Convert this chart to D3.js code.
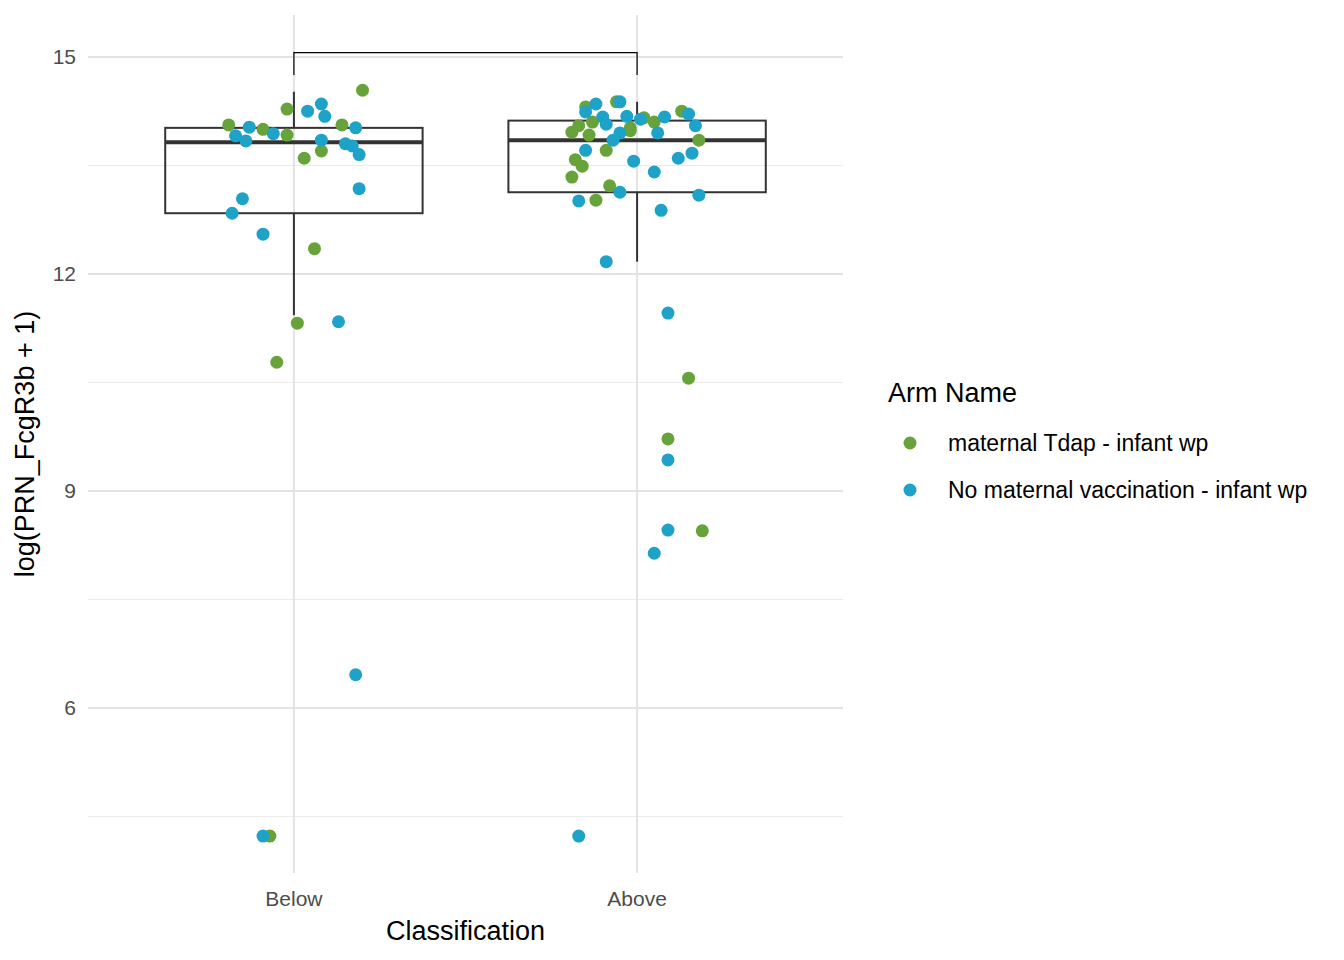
<!DOCTYPE html>
<html><head><meta charset="utf-8">
<script src="https://cdnjs.cloudflare.com/ajax/libs/d3/7.8.5/d3.min.js"></script>
<style>body{margin:0;background:#fff;font-family:"Liberation Sans",Arial,sans-serif;}</style>
</head><body>
<script>
var W = 1344, H = 960;
var svg = d3.select("body").append("svg").attr("width", W).attr("height", H);

var colors = {"maternal Tdap - infant wp": "#67a33a", "No maternal vaccination - infant wp": "#1ea2c8"};

// [class, arm, jitter offset (fraction of band step), value]
var G = "maternal Tdap - infant wp", B = "No maternal vaccination - infant wp";
var points = [
 ["Below",G,-0.19,14.06],["Below",G,-0.02,14.28],["Below",G,-0.09,14.00],["Below",G,-0.02,13.92],
 ["Below",G,0.03,13.60],["Below",G,0.08,13.70],["Below",G,0.14,14.06],["Below",G,0.20,14.54],
 ["Below",G,0.06,12.35],["Below",G,0.01,11.32],["Below",G,-0.05,10.78],["Below",G,-0.07,4.23],
 ["Below",B,-0.17,13.91],["Below",B,-0.13,14.03],["Below",B,-0.14,13.84],["Below",B,-0.06,13.94],
 ["Below",B,0.04,14.25],["Below",B,0.08,14.35],["Below",B,0.09,14.18],["Below",B,0.08,13.85],
 ["Below",B,0.15,13.80],["Below",B,0.17,13.77],["Below",B,0.18,14.02],["Below",B,0.19,13.65],
 ["Below",B,0.19,13.18],["Below",B,-0.15,13.04],["Below",B,-0.18,12.84],["Below",B,-0.09,12.55],
 ["Below",B,0.13,11.34],["Below",B,0.18,6.46],["Below",B,-0.09,4.23],
 ["Above",G,-0.19,13.96],["Above",G,-0.17,14.05],["Above",G,-0.15,14.31],["Above",G,-0.13,14.10],
 ["Above",G,-0.14,13.92],["Above",G,-0.18,13.58],["Above",G,-0.16,13.49],["Above",G,-0.19,13.34],
 ["Above",G,-0.09,13.71],["Above",G,-0.08,13.22],["Above",G,-0.12,13.02],["Above",G,-0.02,13.98],
 ["Above",G,-0.06,14.38],["Above",G,-0.02,14.02],["Above",G,0.02,14.16],["Above",G,0.05,14.10],
 ["Above",G,0.13,14.25],["Above",G,0.18,13.85],["Above",G,0.15,10.56],["Above",G,0.09,9.72],
 ["Above",G,0.19,8.45],
 ["Above",B,-0.12,14.35],["Above",B,-0.10,14.17],["Above",B,-0.09,14.07],["Above",B,-0.15,14.24],
 ["Above",B,-0.15,13.71],["Above",B,-0.05,14.38],["Above",B,-0.05,13.95],["Above",B,-0.07,13.85],
 ["Above",B,-0.03,14.18],["Above",B,0.01,14.14],["Above",B,0.06,13.95],["Above",B,0.08,14.17],
 ["Above",B,0.15,14.21],["Above",B,0.17,14.05],["Above",B,0.16,13.67],["Above",B,0.12,13.60],
 ["Above",B,0.05,13.41],["Above",B,-0.01,13.56],["Above",B,-0.05,13.13],["Above",B,-0.17,13.01],
 ["Above",B,0.07,12.88],["Above",B,0.18,13.09],["Above",B,-0.09,12.17],["Above",B,0.09,11.46],
 ["Above",B,0.09,9.43],["Above",B,0.09,8.46],["Above",B,0.05,8.14],["Above",B,-0.17,4.23]
];

var boxes = [
 {k:"Below", lo:11.43, q1:12.84, med:13.82, q3:14.02, hi:14.52},
 {k:"Above", lo:12.17, q1:13.13, med:13.85, q3:14.12, hi:14.38}
];

var pLeft = 88, pRight = 843, pTop = 15, pBottom = 873;
var x = d3.scalePoint().domain(["Below","Above"]).range([pLeft, pRight]).padding(0.6);
var step = x.step();
var y = d3.scaleLinear().domain([3.72, 15.58]).range([pBottom, pTop]);

// grid
[4.5,7.5,10.5,13.5].forEach(function(v){
  svg.append("line").attr("x1",pLeft).attr("x2",pRight).attr("y1",y(v)).attr("y2",y(v)).attr("stroke","#ebebeb").attr("stroke-width",1);
});
[6,9,12,15].forEach(function(v){
  svg.append("line").attr("x1",pLeft).attr("x2",pRight).attr("y1",y(v)).attr("y2",y(v)).attr("stroke","#e3e3e3").attr("stroke-width",2);
});
x.domain().forEach(function(c){
  svg.append("line").attr("x1",x(c)).attr("x2",x(c)).attr("y1",pTop).attr("y2",pBottom).attr("stroke","#e3e3e3").attr("stroke-width",2);
});

// boxes
var bw = step * 0.75;
boxes.forEach(function(b){
  var cx = x(b.k);
  svg.append("line").attr("x1",cx).attr("x2",cx).attr("y1",y(b.hi)).attr("y2",y(b.q3)).attr("stroke","#333").attr("stroke-width",2);
  svg.append("line").attr("x1",cx).attr("x2",cx).attr("y1",y(b.q1)).attr("y2",y(b.lo)).attr("stroke","#333").attr("stroke-width",2);
  svg.append("rect").attr("x",cx-bw/2).attr("y",y(b.q3)).attr("width",bw).attr("height",y(b.q1)-y(b.q3))
     .attr("fill","none").attr("stroke","#333").attr("stroke-width",2);
  svg.append("line").attr("x1",cx-bw/2).attr("x2",cx+bw/2).attr("y1",y(b.med)).attr("y2",y(b.med)).attr("stroke","#333").attr("stroke-width",4);
});

// points
svg.selectAll("circle.pt").data(points).enter().append("circle")
  .attr("class","pt")
  .attr("cx", function(d){ return x(d[0]) + d[2]*step; })
  .attr("cy", function(d){ return y(d[3]); })
  .attr("r", 6.5)
  .attr("fill", function(d){ return colors[d[1]]; });

// significance bracket
svg.append("path")
  .attr("d", "M"+x("Below")+","+y(14.75)+"V"+y(15.06)+"H"+x("Above")+"V"+y(14.75))
  .attr("fill","none").attr("stroke","#000").attr("stroke-width",1.2);

// axes labels
[6,9,12,15].forEach(function(v){
  svg.append("text").attr("x",76).attr("y",y(v)).attr("dy","0.35em").attr("text-anchor","end")
     .attr("font-size",21).attr("fill","#4d4d4d").text(v);
});
x.domain().forEach(function(c){
  svg.append("text").attr("x",x(c)).attr("y",906).attr("text-anchor","middle")
     .attr("font-size",21).attr("fill","#4d4d4d").text(c);
});
svg.append("text").attr("x",(pLeft+pRight)/2).attr("y",940).attr("text-anchor","middle").attr("font-size",27).text("Classification");
svg.append("text").attr("transform","translate(34,"+((pTop+pBottom)/2)+") rotate(-90)").attr("text-anchor","middle")
  .attr("font-size",27).text("log(PRN_FcgR3b + 1)");

// legend
svg.append("text").attr("x",888).attr("y",402).attr("font-size",27).text("Arm Name");
Object.keys(colors).forEach(function(k,i){
  var yy = 443 + i*47;
  svg.append("circle").attr("cx",910).attr("cy",yy).attr("r",6.5).attr("fill",colors[k]);
  svg.append("text").attr("x",948).attr("y",yy).attr("dy","0.35em").attr("font-size",23).text(k);
});
</script>
</body></html>
